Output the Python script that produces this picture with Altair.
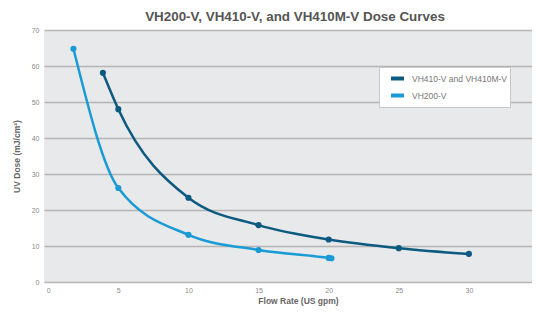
import altair as alt
import pandas as pd

# Data
vh410_flow = [3.9, 5, 10, 15, 20, 25, 30]
vh410_dose = [58.1, 48.0, 23.4, 15.8, 11.8, 9.4, 7.8]
vh200_flow = [1.8, 5, 10, 15, 20, 20.2]
vh200_dose = [64.8, 26.1, 13.1, 8.9, 6.7, 6.6]
series_names = ["VH410-V and VH410M-V", "VH200-V"]
series_colors = ["#0c5a80", "#1a9bd6"]
x_ticks = [0, 5, 10, 15, 20, 25, 30, 35]
y_ticks = [0, 10, 20, 30, 40, 50, 60, 70]

rows = []
for f, d in zip(vh410_flow, vh410_dose):
    rows.append({"flow": f, "dose": d, "series": series_names[0]})
for f, d in zip(vh200_flow, vh200_dose):
    rows.append({"flow": f, "dose": d, "series": series_names[1]})
df = pd.DataFrame(rows)

FONT = "Liberation Sans"

xs = alt.X("flow:Q",
           scale=alt.Scale(domain=[-0.3, 34.5], nice=False, zero=False),
           axis=alt.Axis(values=x_ticks, title="Flow Rate (US gpm)", grid=False,
                         domain=False, ticks=False, labelFontSize=7, labelColor="#8a8a8a",
                         labelPadding=4, labelFlush=False, labelOverlap=False,
                         titleFontSize=8.5, titleColor="#666666",
                         titleFontWeight="bold", titlePadding=3, labelFont=FONT,
                         titleFont=FONT, titleX=254, titleAnchor="middle"))
ys = alt.Y("dose:Q",
           scale=alt.Scale(domain=[0, 70], nice=False),
           axis=alt.Axis(values=y_ticks, title="UV Dose (mJ/cm²)", grid=True,
                         gridColor="#b5b5b5", gridWidth=1.5, domain=False, ticks=False,
                         labelFontSize=7, labelColor="#8a8a8a", labelPadding=5,
                         labelOverlap=False, labelFlush=False,
                         titleFontSize=8.5, titleColor="#666666", titleFontWeight="bold",
                         titlePadding=10, labelFont=FONT, titleFont=FONT))
color = alt.Color("series:N",
                  scale=alt.Scale(domain=series_names, range=series_colors),
                  legend=alt.Legend(title=None, orient="none", legendX=335, legendY=37,
                                    fillColor="white", strokeColor="#c8c8c8",
                                    padding=3, symbolType="stroke", symbolOffset=7,
                                    symbolStrokeWidth=4, symbolSize=169,
                                    labelFontSize=8.5, labelColor="#777777",
                                    labelFont=FONT, rowPadding=0, labelOffset=6,
                                    symbolOpacity=1))

base = alt.Chart(df)
lines = base.mark_line(interpolate="monotone", strokeWidth=2.5, strokeCap="round").encode(
    x=xs, y=ys, color=color)
points = base.mark_circle(size=38, opacity=1).encode(
    x=xs, y=ys,
    color=alt.Color("series:N", scale=alt.Scale(domain=series_names, range=series_colors),
                    legend=None))

chart = alt.layer(lines, points).properties(
    width=488, height=252,
    title=alt.Title("VH200-V, VH410-V, and VH410M-V Dose Curves", fontSize=13.4,
                    font=FONT, fontWeight="bold", color="#555555", anchor="middle",
                    frame="group", dx=7, offset=3),
    autosize=alt.AutoSizeParams(type="none"),
    padding={"left": 36, "top": 22, "right": 0, "bottom": 24},
    background="white",
).configure_view(fill="#e8e9eb", stroke=None)

chart.save("out.html", embed_options={"renderer": "svg", "actions": False})
